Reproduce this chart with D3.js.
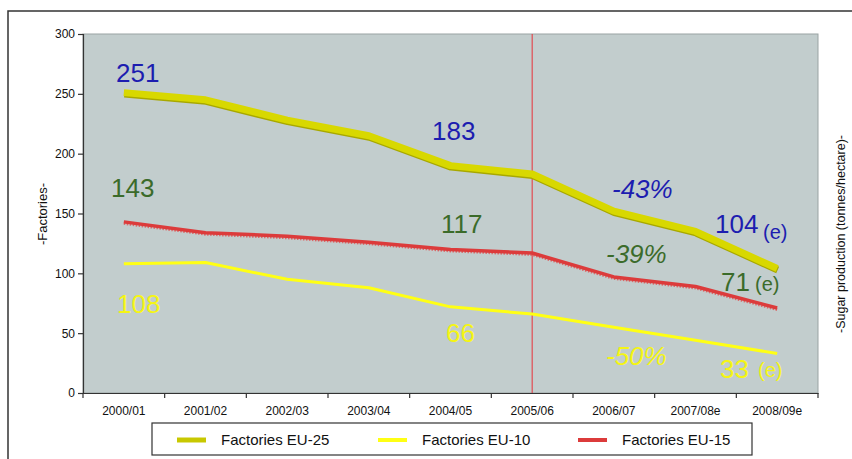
<!DOCTYPE html>
<html>
<head>
<meta charset="utf-8">
<script src="https://cdn.jsdelivr.net/npm/d3@7"></script>
<style>
  html, body { margin: 0; padding: 0; background: #fff; }
  svg { display: block; font-family: "Liberation Sans", Arial, sans-serif; }
</style>
</head>
<body>
<svg id="chart" width="852" height="459"></svg>
<script>
// Sugar factories in the EU, 2000/01 to 2008/09 (estimates marked "e")
const seasons = ["2000/01", "2001/02", "2002/03", "2003/04", "2004/05", "2005/06", "2006/07", "2007/08e", "2008/09e"];
const eu25 = [251, 245, 228, 215, 190, 183, 152, 135, 104];
const eu10 = [108, 109, 95, 88, 72, 66, 55, 44, 33];
const eu15 = [143, 134, 131, 126, 120, 117, 97, 89, 71];
const yTicks = [0, 50, 100, 150, 200, 250, 300];
const reformSeason = "2005/06";

const svg = d3.select("#chart");
const plotLeft = 83, plotRight = 818, plotTop = 34, plotBottom = 393;

const x = d3.scaleBand().domain(seasons).range([plotLeft, plotRight]).padding(0);
const cx = s => x(s) + x.bandwidth() / 2;
const y = d3.scaleLinear().domain([0, 300]).range([plotBottom, plotTop]);

// outer frame
svg.append("rect").attr("x", 8).attr("y", 11).attr("width", 860).attr("height", 470)
  .attr("fill", "none").attr("stroke", "#333").attr("stroke-width", 1.5);

// plot background
svg.append("rect").attr("x", plotLeft).attr("y", plotTop)
  .attr("width", plotRight - plotLeft).attr("height", plotBottom - plotTop)
  .attr("fill", "#c2cdcd").attr("stroke", "#9aa3a3").attr("stroke-width", 1);

// y axis
const yAxis = svg.append("g").attr("transform", `translate(${plotLeft},0)`)
  .call(d3.axisLeft(y).tickValues(yTicks).tickSize(5).tickPadding(3));
yAxis.selectAll("text").attr("font-size", 12).attr("fill", "#111");
yAxis.selectAll("line, path").attr("stroke", "#333").attr("stroke-width", 1.2);

// x axis: labels at band centres, tick marks at band edges
const xAxis = svg.append("g").attr("transform", `translate(0,${plotBottom})`)
  .call(d3.axisBottom(x).tickSize(0).tickPadding(13));
xAxis.selectAll("text").attr("font-size", 12).attr("fill", "#111");
xAxis.select("path").attr("stroke", "#333").attr("stroke-width", 1.2);
const edges = seasons.map(s => x(s)).concat([plotRight]);
svg.append("g").selectAll("line").data(edges).join("line")
  .attr("x1", d => d).attr("x2", d => d).attr("y1", plotBottom).attr("y2", plotBottom + 5)
  .attr("stroke", "#333").attr("stroke-width", 1.2);

// reform marker
svg.append("line").attr("x1", cx(reformSeason)).attr("x2", cx(reformSeason))
  .attr("y1", plotTop).attr("y2", plotBottom).attr("stroke", "#e8323a").attr("stroke-width", 1);

const line = d3.line().x((d, i) => cx(seasons[i])).y(d => y(d));

// EU-10: thin bright yellow
svg.append("path").datum(eu10).attr("d", line).attr("fill", "none")
  .attr("stroke", "#ffff14").attr("stroke-width", 3).attr("stroke-linejoin", "round");

// EU-15: red with a light dotted lower edge
svg.append("path").datum(eu15).attr("d", line).attr("transform", "translate(0,1.5)")
  .attr("fill", "none").attr("stroke", "#d86a6a").attr("stroke-width", 3).attr("stroke-dasharray", "1.5,1.5");
svg.append("path").datum(eu15).attr("d", line).attr("fill", "none")
  .attr("stroke", "#dc3b3b").attr("stroke-width", 3.5).attr("stroke-linejoin", "round");

// EU-25: thick olive-yellow with a darker shadow edge
svg.append("path").datum(eu25).attr("d", line).attr("transform", "translate(0.5,1.5)")
  .attr("fill", "none").attr("stroke", "#a8a800").attr("stroke-width", 7).attr("stroke-linejoin", "round");
svg.append("path").datum(eu25).attr("d", line).attr("fill", "none")
  .attr("stroke", "#d8d800").attr("stroke-width", 7).attr("stroke-linejoin", "round");

// value annotations
const blue = "#1d1db0", green = "#3b6b2a", yellow = "#f5f514";
const notes = [
  { t: "251", x: 116, y: 82, c: blue },
  { t: "143", x: 111, y: 197, c: green },
  { t: "108", x: 117, y: 313, c: yellow },
  { t: "183", x: 432, y: 140, c: blue },
  { t: "117", x: 441, y: 233, c: green },
  { t: "66", x: 446, y: 342, c: yellow },
  { t: "-43%", x: 612, y: 198, c: blue, it: true },
  { t: "-39%", x: 606, y: 263, c: green, it: true },
  { t: "-50%", x: 606, y: 365, c: yellow, it: true },
  { t: "104", x: 715, y: 233, c: blue },
  { t: "71", x: 721, y: 291, c: green },
  { t: "33", x: 720, y: 378, c: yellow }
];
svg.append("g").selectAll("text").data(notes).join("text")
  .attr("x", d => d.x).attr("y", d => d.y).attr("fill", d => d.c)
  .attr("font-size", 26).attr("font-style", d => d.it ? "italic" : "normal")
  .text(d => d.t);

const estimates = [
  { x: 763, y: 239, c: blue },
  { x: 755, y: 291, c: green },
  { x: 758, y: 377, c: yellow }
];
svg.append("g").selectAll("text").data(estimates).join("text")
  .attr("x", d => d.x).attr("y", d => d.y).attr("fill", d => d.c)
  .attr("font-size", 20).text("(e)");

// axis titles
svg.append("text").attr("transform", "translate(47,214) rotate(-90)")
  .attr("text-anchor", "middle").attr("font-size", 13).attr("fill", "#111").text("-Factories-");
svg.append("text").attr("transform", "translate(845,234) rotate(-90)")
  .attr("text-anchor", "middle").attr("font-size", 12.5).attr("fill", "#111")
  .text("-Sugar production (tonnes/hectare)-");

// legend
const legendItems = [
  { name: "Factories EU-25", c: "#c8c800", w: 5, lx: 177, tx: 221 },
  { name: "Factories EU-10", c: "#ffff14", w: 4, lx: 378, tx: 422 },
  { name: "Factories EU-15", c: "#dc3b3b", w: 4, lx: 578, tx: 622 }
];
svg.append("rect").attr("x", 152).attr("y", 423).attr("width", 600).attr("height", 32)
  .attr("fill", "#fff").attr("stroke", "#333").attr("stroke-width", 1.2);
const lg = svg.append("g").selectAll("g").data(legendItems).join("g");
lg.append("line").attr("x1", d => d.lx).attr("x2", d => d.lx + 29).attr("y1", 440).attr("y2", 440)
  .attr("stroke", d => d.c).attr("stroke-width", d => d.w);
lg.append("text").attr("x", d => d.tx).attr("y", 445).attr("font-size", 15).attr("fill", "#111")
  .text(d => d.name);
</script>
</body>
</html>
